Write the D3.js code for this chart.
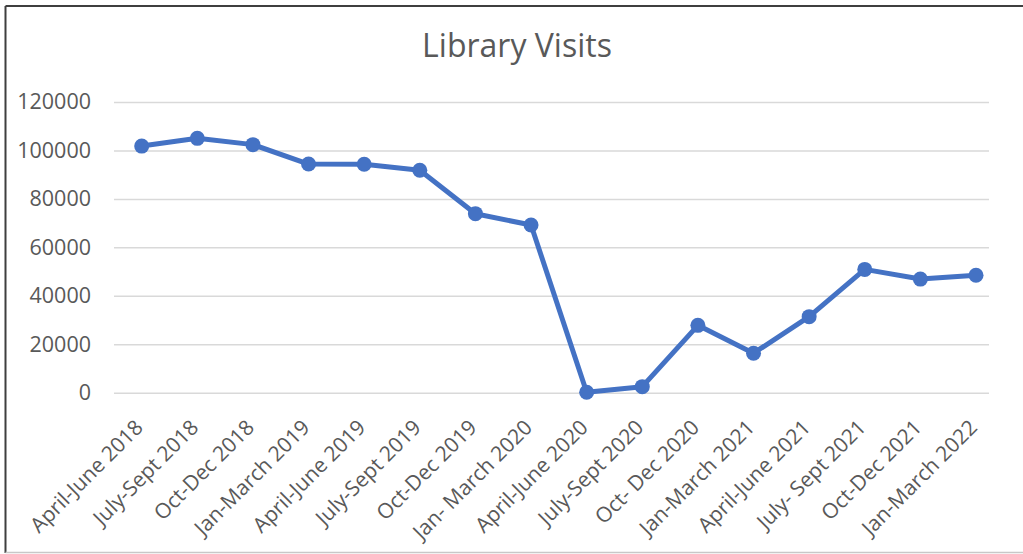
<!DOCTYPE html>
<html>
<head>
<meta charset="utf-8">
<script src="https://cdn.jsdelivr.net/npm/d3@7"></script>
<style>
  body { margin: 0; background: #fff; }
  svg { display: block; font-family: "Open Sans", sans-serif; }
</style>
</head>
<body>
<div class="canvas"></div>
<script>
// data
const quarters = [
  "April-June 2018", "July-Sept 2018", "Oct-Dec 2018", "Jan-March 2019",
  "April-June 2019", "July-Sept 2019", "Oct-Dec 2019", "Jan- March 2020",
  "April-June 2020", "July-Sept 2020", "Oct- Dec 2020", "Jan-March 2021",
  "April-June 2021", "July- Sept 2021", "Oct-Dec 2021", "Jan-March 2022"
];
const visits = [
  101800, 105000, 102400, 94400, 94300, 91800, 73900, 69200,
  200, 2500, 27800, 16300, 31400, 50900, 46900, 48500
];
const yTicks = [0, 20000, 40000, 60000, 80000, 100000, 120000];

const width = 1023;
const height = 554;
const fontFamily = "'Open Sans', sans-serif";

const svg = d3
  .select(".canvas")
  .append("svg")
  .attr("width", width)
  .attr("height", height);

// chart frame
svg.append("line")
  .attr("x1", 5.5).attr("x2", 5.5).attr("y1", 6).attr("y2", 553)
  .attr("stroke", "#3f3f3f").attr("stroke-width", 2);
svg.append("line")
  .attr("x1", 5.5).attr("x2", width).attr("y1", 6).attr("y2", 6)
  .attr("stroke", "#3f3f3f").attr("stroke-width", 2);
svg.append("line")
  .attr("x1", 5.5).attr("x2", width).attr("y1", 552.5).attr("y2", 552.5)
  .attr("stroke", "#c8c8c8").attr("stroke-width", 1.5);

// title
svg.append("text")
  .attr("x", 517)
  .attr("y", 57)
  .attr("text-anchor", "middle")
  .attr("fill", "#595959")
  .attr("font-size", 32)
  .text("Library Visits");

// plot area
const plotLeft = 114;
const plotRight = 989;

// scales
const x = d3.scalePoint().domain(quarters).range([141.7, 976]);
const y = d3.scaleLinear().domain([0, 120000]).range([392.7, 102]);

// y axis with gridlines
const yAxisGroup = svg.append("g")
  .attr("transform", `translate(${plotLeft}, 0)`)
  .call(d3.axisLeft(y)
    .tickValues(yTicks)
    .tickSize(-(plotRight - plotLeft))
    .tickPadding(23)
    .tickFormat(d3.format("d")));

yAxisGroup.select(".domain").remove();
yAxisGroup.selectAll("line")
  .attr("stroke", "#d9d9d9")
  .attr("stroke-width", 1.5);
yAxisGroup.selectAll("text")
  .attr("fill", "#595959")
  .attr("font-size", 21.5)
  .attr("font-family", fontFamily);

// x axis labels
const xAxisGroup = svg.append("g")
  .attr("transform", `translate(0, ${y(0)})`)
  .call(d3.axisBottom(x).tickSize(0).tickPadding(0));

xAxisGroup.select(".domain").remove();
xAxisGroup.selectAll("text")
  .attr("fill", "#595959")
  .attr("font-size", 21)
  .attr("font-family", fontFamily)
  .attr("text-anchor", "end")
  .attr("dy", "0")
  .attr("transform", "translate(2, 36) rotate(-45)");

// line
const line = d3.line()
  .x((d, i) => x(quarters[i]))
  .y((d) => y(d));

svg.append("path")
  .datum(visits)
  .attr("fill", "none")
  .attr("stroke", "#4472c4")
  .attr("stroke-width", 5)
  .attr("stroke-linejoin", "round")
  .attr("d", line);

// markers
svg.selectAll("circle")
  .data(visits)
  .enter()
  .append("circle")
  .attr("cx", (d, i) => x(quarters[i]))
  .attr("cy", (d) => y(d))
  .attr("r", 7.5)
  .attr("fill", "#4472c4");
</script>
</body>
</html>
